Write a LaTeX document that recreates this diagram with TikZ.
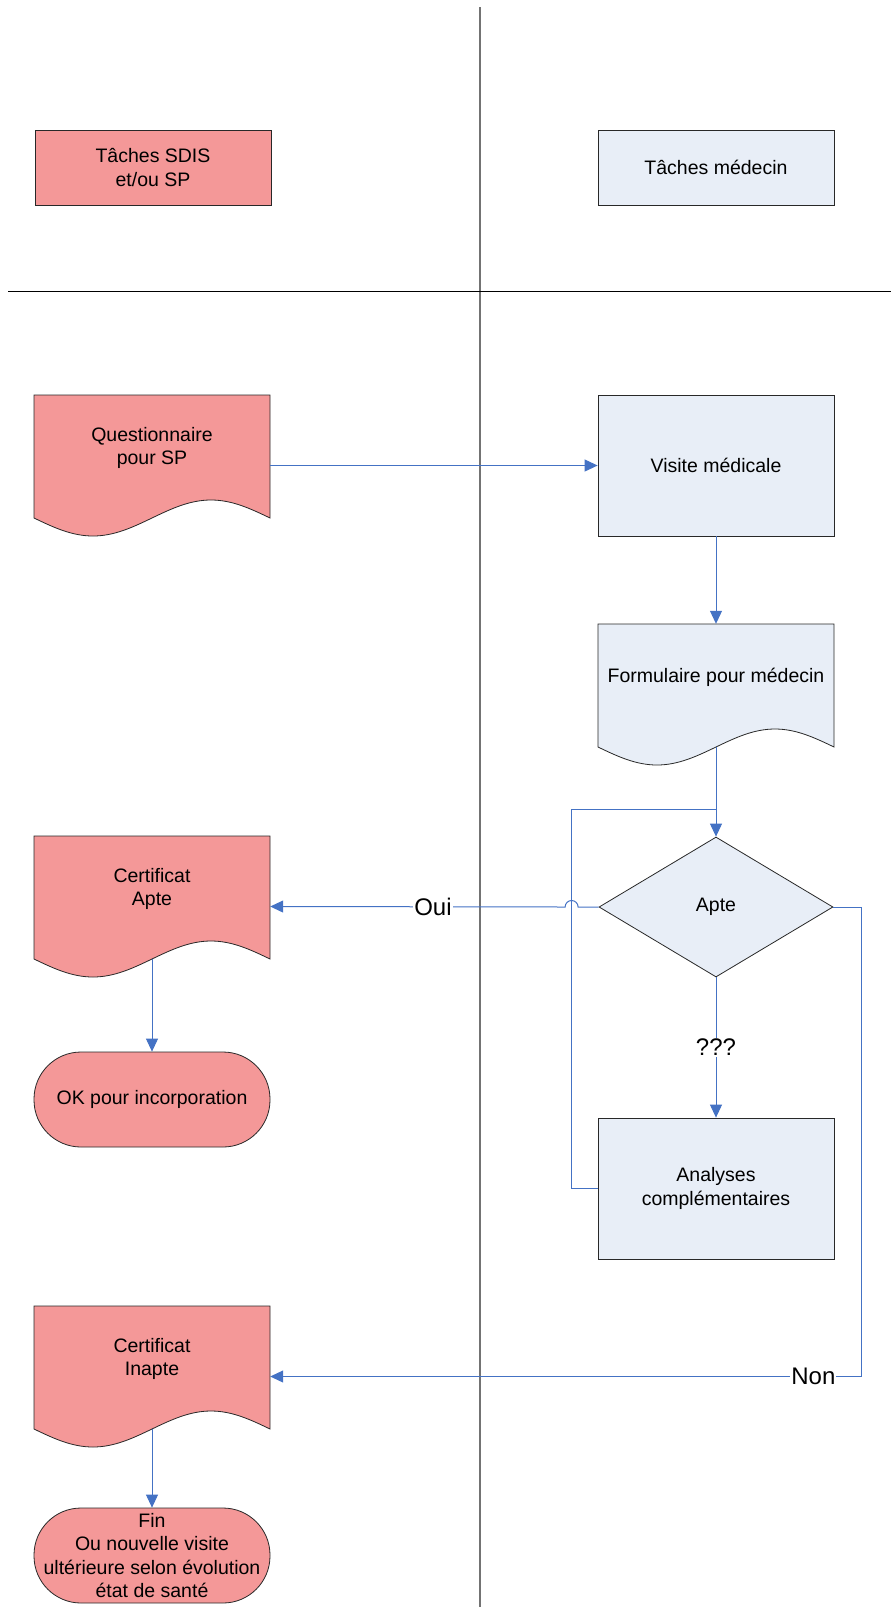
\documentclass[tikz,border=0pt]{standalone}
\usepackage{fontspec}
\setmainfont{Liberation Sans}
\usetikzlibrary{shapes.geometric}
\usetikzlibrary{arrows.meta}
\definecolor{sdisRed}{RGB}{244, 152, 152}
\definecolor{medBlue}{RGB}{232, 238, 247}
\definecolor{linkBlue}{RGB}{68, 114, 196}
\definecolor{edgeGray}{RGB}{40, 40, 40}
\definecolor{laneGray}{RGB}{115, 115, 115}
\tikzset{
    nodefont/.style={font=\fontsize{19.5}{23.5}\selectfont, align=center},
    box/.style={rectangle, draw=edgeGray, line width=0.8pt, minimum width=236pt, minimum height=141pt, inner sep=0pt, nodefont},
    header/.style={box, minimum height=75pt},
    doc/.style={rectangle, minimum width=236pt, minimum height=141pt, inner sep=0pt},
    doctext/.style={nodefont, yshift=17.5pt},
    decision/.style={diamond, draw=edgeGray, line width=0.8pt, fill=medBlue, minimum width=234pt, minimum height=140pt, inner sep=0pt, nodefont},
    terminal/.style={rectangle, rounded corners=47pt, draw=edgeGray, line width=0.8pt, fill=sdisRed, minimum width=236pt, minimum height=95pt, inner sep=0pt, nodefont},
    link/.style={draw=linkBlue, line width=1pt},
    arr/.style={link, -{Triangle[length=13pt, width=12pt]}},
    lbl/.style={fill=white, inner sep=1pt, font=\fontsize{24}{28}\selectfont},
    laneV/.style={draw=laneGray, line width=1.5pt},
    laneH/.style={draw=black, line width=1pt}
}
% document outline: centre x, top y, fill
\newcommand\docshape[3]{%
    \filldraw[fill=#3, draw=edgeGray, line width=0.8pt]
        (#1-118,#2) -- (#1+118,#2) -- (#1+118,#2+123)
        sin (#1+59,#2+105) cos (#1,#2+123) sin (#1-59,#2+141) cos (#1-118,#2+123) -- cycle;}

\begin{document}
\begin{tikzpicture}[x=1pt, y=-1pt]
    \useasboundingbox (0,0) rectangle (891,1607);

    % swimlanes
    \draw[laneV] (480,7) -- (480,1607);
    \draw[laneH] (8,291) -- (891,291);

    % lane headers
    \node[header, fill=sdisRed] (sdis) at (153,167.5) {Tâches SDIS\\et/ou SP};
    \node[header, fill=medBlue] (med) at (716,167.5) {Tâches médecin};

    % document outlines first, nodes on top
    \docshape{152}{395}{sdisRed}
    \docshape{716}{624}{medBlue}
    \docshape{152}{836}{sdisRed}
    \docshape{152}{1306}{sdisRed}

    \node[doc, label={[doctext]center:{Questionnaire\\pour SP}}] (quest) at (152,465.5) {};
    \node[box, fill=medBlue] (visite) at (716,465.5) {Visite médicale};
    \node[doc, label={[doctext]center:{Formulaire pour médecin}}] (form) at (716,694.5) {};
    \node[decision] (apte) at (716,907) {Apte};
    \node[box, fill=medBlue] (ana) at (716,1188.5) {Analyses\\complémentaires};
    \node[doc, label={[doctext]center:{Certificat\\Apte}}] (certa) at (152,906.5) {};
    \node[terminal] (ok) at (152,1099.5) {OK pour incorporation};
    \node[doc, label={[doctext]center:{Certificat\\Inapte}}] (certi) at (152,1376.5) {};
    \node[terminal] (fin) at (152,1555.5) {Fin\\Ou nouvelle visite\\ultérieure selon évolution\\état de santé};

    % connectors
    \draw[arr] (quest.east) -- (visite.west);
    \draw[arr] (visite.south) -- (form.north);
    \draw[arr] ([yshift=18pt]form.south) -- (apte.north);
    \draw[link] (ana.west) -- ++(-26,0) |- ([yshift=27pt]apte.north);
    \draw[arr] (apte.west) -- ++(-20.5,0) arc[start angle=0, end angle=-180, radius=6.5]
        -- (certa.east) node[lbl, pos=0.448] (oui) {Oui};
    \draw[arr] (apte.east) -- ++(28,0) |- (certi.east) node[lbl, pos=0.5406] (non) {Non};
    \draw[arr] (apte.south) -- (ana.north) node[lbl, midway] (qqq) {???};
    \draw[arr] ([yshift=18pt]certa.south) -- (ok.north);
    \draw[arr] ([yshift=18pt]certi.south) -- (fin.north);
\end{tikzpicture}
\end{document}
